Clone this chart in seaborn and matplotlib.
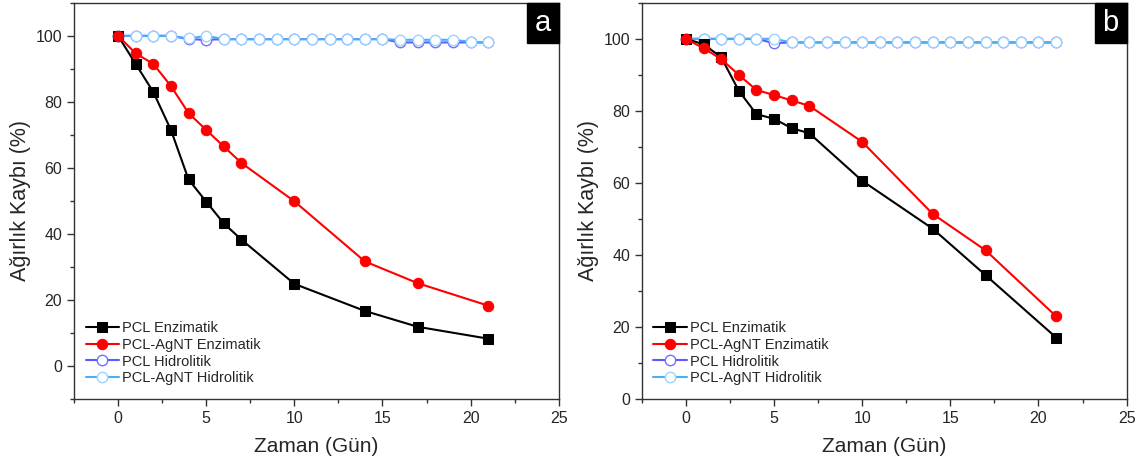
import matplotlib
matplotlib.use("Agg")
import matplotlib.pyplot as plt
import seaborn as sns
from matplotlib.patches import Rectangle
from matplotlib.ticker import MultipleLocator

sns.set_style("ticks")
plt.rcParams["font.family"] = ["Liberation Sans", "DejaVu Sans"]

# Data
days = [0, 1, 2, 3, 4, 5, 6, 7, 10, 14, 17, 21]
days_hyd = list(range(22))

a_pcl_enz = [100, 91.5, 83, 71.5, 56.5, 49.8, 43.2, 38.3, 24.9, 16.7, 11.9, 8.3]
a_agnt_enz = [100, 94.7, 91.5, 84.8, 76.6, 71.5, 66.5, 61.5, 49.9, 31.7, 25.1, 18.3]
a_pcl_hyd = [100, 100, 100, 100, 99, 98.8, 99, 99, 99, 99, 99, 99, 99, 99, 99, 99,
             98, 98, 98, 98, 98, 98]
a_agnt_hyd = [100, 100, 100, 100, 99.2, 100, 99, 99, 99, 99, 99, 99, 99, 99, 99, 99,
              98.8, 98.8, 98.8, 98.8, 98.2, 98]

b_pcl_enz = [100, 98.5, 94.9, 85.6, 79.1, 77.8, 75.2, 73.8, 60.6, 47.3, 34.4, 17.1]
b_agnt_enz = [100, 97.4, 94.4, 90.0, 85.8, 84.4, 82.9, 81.4, 71.4, 51.4, 41.3, 23.0]
b_pcl_hyd = [100, 100, 100, 100, 100, 98.8] + [99] * 16
b_agnt_hyd = [100, 100, 100, 100, 100, 100] + [99] * 16

labels = ["PCL Enzimatik", "PCL-AgNT Enzimatik", "PCL Hidrolitik", "PCL-AgNT Hidrolitik"]

fig = plt.figure(figsize=(11.38, 4.69), dpi=100)
ax_a = fig.add_axes([0.065, 0.149, 0.426, 0.845])
ax_b = fig.add_axes([0.564, 0.149, 0.426, 0.845])


def draw(ax, enz1, enz2, hyd1, hyd2, ylim, letter):
    sns.lineplot(x=days, y=enz1, ax=ax, color="black", marker="s", markersize=6.5,
                 markeredgecolor="black", linewidth=1.5, label=labels[0], zorder=4)
    sns.lineplot(x=days, y=enz2, ax=ax, color="#ff0000", marker="o", markersize=7.5,
                 markeredgecolor="#ff0000", linewidth=1.5, label=labels[1], zorder=5)
    sns.lineplot(x=days_hyd, y=hyd1, ax=ax, color="#5a5aff", marker="o", markersize=7.5,
                 markerfacecolor="white", markeredgecolor="#7070ff", markeredgewidth=1,
                 linewidth=1.5, label=labels[2], zorder=3)
    sns.lineplot(x=days_hyd, y=hyd2, ax=ax, color="#4aaef5", marker="o", markersize=7.5,
                 markerfacecolor="white", markeredgecolor="#9ad4ff", markeredgewidth=1,
                 linewidth=1.5, label=labels[3], zorder=3)

    ax.set_xlim(-2.5, 25)
    ax.set_ylim(*ylim)
    ax.xaxis.set_major_locator(MultipleLocator(5))
    ax.xaxis.set_minor_locator(MultipleLocator(2.5))
    ax.yaxis.set_major_locator(MultipleLocator(20))
    ax.yaxis.set_minor_locator(MultipleLocator(10))
    ax.tick_params(axis="both", which="major", direction="out", length=5, width=1,
                   labelsize=11.5, color="#333333")
    ax.tick_params(axis="both", which="minor", direction="out", length=3, width=1,
                   color="#333333")
    for s in ax.spines.values():
        s.set_color("#333333")
        s.set_linewidth(1)
    ax.set_xlabel("Zaman (Gün)", fontsize=15, labelpad=8)
    ax.set_ylabel("Ağırlık Kaybı (%)", fontsize=15.5, labelpad=3)

    ax.legend(loc="lower left", frameon=False, fontsize=10.5, handlelength=2.3,
              handletextpad=0.2, labelspacing=0.2, borderaxespad=0.4,
              bbox_to_anchor=(0.0, 0.005))

    # panel letter in a black box flush with the top-right corner
    ax.add_patch(Rectangle((0.934, 0.898), 0.066, 0.102, transform=ax.transAxes,
                           facecolor="black", edgecolor="black", zorder=6,
                           clip_on=False))
    ax.text(0.967, 0.949, letter, transform=ax.transAxes, ha="center", va="center",
            fontsize=21, color="white", zorder=7)


draw(ax_a, a_pcl_enz, a_agnt_enz, a_pcl_hyd, a_agnt_hyd, (-10, 110), "a")
draw(ax_b, b_pcl_enz, b_agnt_enz, b_pcl_hyd, b_agnt_hyd, (0, 110), "b")

fig.savefig("out.png", dpi=100)
